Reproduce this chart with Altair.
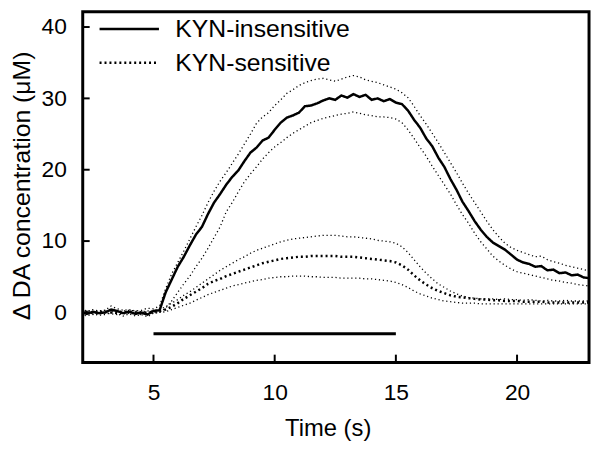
import altair as alt
import pandas as pd

# ---- data ----
T = [2.0, 2.25, 2.5, 2.75, 3.0, 3.25, 3.5, 3.75, 4.0, 4.25, 4.5, 4.75,
     5.0, 5.25, 5.5, 5.75, 6.0, 6.25, 6.5, 6.75, 7.0, 7.25, 7.5, 7.75,
     8.0, 8.25, 8.5, 8.75, 9.0, 9.25, 9.5, 9.75, 10.0, 10.25, 10.5, 10.75,
     11.0, 11.25, 11.5, 11.75, 12.0, 12.25, 12.5, 12.75, 13.0, 13.25, 13.5, 13.75,
     14.0, 14.25, 14.5, 14.75, 15.0, 15.25, 15.5, 15.75, 16.0, 16.25, 16.5, 16.75,
     17.0, 17.25, 17.5, 17.75, 18.0, 18.25, 18.5, 18.75, 19.0, 19.25, 19.5, 19.75,
     20.0, 20.25, 20.5, 20.75, 21.0, 21.25, 21.5, 21.75, 22.0, 22.25, 22.5, 22.75,
     23.0]

ins_mean = [0.0, -0.2, 0.1, -0.1, 0.0, 0.4, 0.2, -0.1, 0.1, -0.2, 0.0, -0.3,
            0.2, 0.3, 2.8, 4.6, 6.4, 7.8, 9.4, 10.9, 12.0, 13.8, 15.4, 16.6,
            17.9, 19.0, 19.9, 21.2, 22.4, 23.1, 24.1, 24.5, 25.6, 26.6, 27.3, 27.6,
            28.0, 28.9, 29.0, 29.3, 29.7, 30.0, 29.8, 30.4, 30.1, 30.6, 30.2, 30.5,
            29.8, 30.0, 29.6, 29.9, 29.4, 29.2, 28.3, 27.0, 25.9, 24.4, 23.3, 21.7,
            20.4, 18.7, 17.2, 15.5, 14.2, 12.8, 11.6, 10.6, 9.8, 9.3, 8.8, 8.1,
            7.4, 7.0, 6.8, 6.4, 6.5, 5.9, 6.0, 5.5, 5.6, 5.2, 5.3, 4.9,
            4.8]
ins_hi = [0.3, 0.1, 0.4, 0.2, 0.3, 0.9, 0.5, 0.3, 0.4, 0.2, 0.3, 0.6,
          0.5, 0.9, 3.3, 5.4, 7.0, 8.6, 10.3, 12.0, 13.6, 15.4, 17.0, 18.4,
          19.6, 20.9, 22.2, 23.6, 25.0, 26.5, 27.4, 28.0, 29.0, 29.8, 30.7, 31.2,
          31.8, 32.2, 32.5, 32.7, 32.8, 32.6, 32.4, 32.7, 33.0, 33.2, 33.0, 32.6,
          32.4, 32.2, 31.9, 31.6, 31.3, 30.8, 30.1, 28.9, 27.6, 26.4, 25.1, 23.8,
          22.4, 21.0, 19.6, 18.1, 16.7, 15.4, 14.1, 12.8, 11.6, 10.6, 9.7, 9.1,
          8.7, 8.4, 8.1, 7.8, 7.9, 7.4, 7.1, 6.9, 6.6, 6.4, 6.2, 6.0,
          5.8]
ins_lo = [-0.3, -0.5, -0.2, -0.4, -0.3, 0.0, -0.2, -0.5, -0.2, -0.5, -0.3, -0.6,
          -0.1, 0.0, 0.6, 1.6, 2.8, 4.0, 5.1, 6.4, 7.6, 9.0, 10.5, 12.0,
          14.1, 15.4, 16.9, 18.3, 19.4, 20.4, 21.5, 22.4, 23.2, 23.8, 24.5, 25.1,
          25.6, 26.1, 26.6, 26.9, 27.2, 27.4, 27.6, 27.8, 27.9, 28.1, 27.9, 27.7,
          27.6, 27.4, 27.4, 27.3, 27.1, 26.6, 25.6, 24.4, 23.1, 21.9, 20.5, 19.2,
          17.9, 16.6, 15.1, 13.7, 12.5, 11.1, 9.9, 8.9, 7.9, 7.2, 6.6, 6.1,
          5.7, 5.5, 5.3, 5.1, 4.9, 4.7, 4.5, 4.4, 4.2, 4.1, 3.9, 3.8,
          3.7]
sen_mean = [0.0, 0.1, -0.1, 0.0, 0.1, 0.0, -0.1, 0.0, 0.1, 0.0, -0.1, 0.0,
            0.1, 0.2, 0.4, 0.8, 1.3, 1.9, 2.4, 2.9, 3.4, 4.0, 4.4, 4.7,
            5.1, 5.4, 5.7, 6.0, 6.3, 6.6, 6.9, 7.1, 7.3, 7.5, 7.6, 7.7,
            7.8, 7.8, 7.9, 7.9, 7.9, 7.9, 7.9, 7.8, 7.8, 7.8, 7.7, 7.6,
            7.5, 7.4, 7.3, 7.2, 7.0, 6.6, 6.0, 5.2, 4.5, 3.9, 3.4, 3.0,
            2.7, 2.4, 2.2, 2.1, 2.0, 1.9, 1.8, 1.8, 1.7, 1.7, 1.6, 1.6,
            1.6, 1.5, 1.5, 1.5, 1.5, 1.4, 1.4, 1.4, 1.4, 1.4, 1.4, 1.4,
            1.4]
sen_hi = [0.2, 0.3, 0.1, 0.2, 0.3, 0.2, 0.1, 0.2, 0.3, 0.2, 0.1, 0.2,
          0.3, 0.4, 0.8, 1.3, 1.8, 2.4, 2.9, 3.5, 4.1, 4.7, 5.3, 5.9,
          6.4, 6.9, 7.4, 7.8, 8.3, 8.7, 9.0, 9.3, 9.6, 9.9, 10.1, 10.3,
          10.4, 10.5, 10.6, 10.7, 10.8, 10.8, 10.8, 10.7, 10.6, 10.6, 10.5, 10.4,
          10.3, 10.1, 10.0, 9.9, 9.7, 9.2, 8.4, 7.4, 6.4, 5.5, 4.7, 4.0,
          3.5, 3.0, 2.6, 2.3, 2.1, 2.0, 1.9, 1.9, 1.9, 1.8, 1.9, 1.8,
          1.8, 1.7, 1.8, 1.7, 1.6, 1.7, 1.6, 1.6, 1.7, 1.6, 1.6, 1.6,
          1.6]
sen_lo = [-0.2, -0.1, -0.3, -0.2, -0.1, -0.2, -0.3, -0.2, -0.1, -0.2, -0.3, -0.2,
          -0.1, 0.0, 0.1, 0.4, 0.7, 1.0, 1.3, 1.7, 2.1, 2.5, 2.8, 3.1,
          3.4, 3.7, 3.9, 4.1, 4.3, 4.5, 4.6, 4.8, 4.9, 5.0, 5.0, 5.1,
          5.1, 5.1, 5.0, 5.0, 4.9, 4.9, 4.9, 4.8, 4.8, 4.8, 4.8, 4.7,
          4.7, 4.6, 4.5, 4.4, 4.2, 3.9, 3.5, 3.0, 2.6, 2.3, 2.0, 1.8,
          1.6, 1.5, 1.4, 1.3, 1.3, 1.3, 1.2, 1.2, 1.2, 1.2, 1.2, 1.2,
          1.2, 1.2, 1.2, 1.2, 1.2, 1.2, 1.2, 1.2, 1.2, 1.2, 1.2, 1.2,
          1.2]

series_names = ["KYN-insensitive", "KYN-sensitive"]
ytick_vals = [0, 10, 20, 30, 40]
xtick_vals = [5, 10, 15, 20]
stim_start, stim_end, stim_level = 5, 15, -3

# ---- tables ----
mean_rows = []
for name, vals in [(series_names[0], ins_mean), (series_names[1], sen_mean)]:
    for t, v in zip(T, vals):
        mean_rows.append({"t": t, "v": v, "series": name})
means = pd.DataFrame(mean_rows)

bound_rows = []
for lid, vals in [("ins_hi", ins_hi), ("ins_lo", ins_lo), ("sen_hi", sen_hi), ("sen_lo", sen_lo)]:
    for t, v in zip(T, vals):
        bound_rows.append({"t": t, "v": v, "line": lid})
bounds = pd.DataFrame(bound_rows)

stim = pd.DataFrame({"t": [stim_start], "t2": [stim_end], "v": [stim_level]})
yticks = pd.DataFrame({"v": ytick_vals})
xticks = pd.DataFrame({"t": xtick_vals})

# ---- chart ----
FONT = "Liberation Sans"
W, H = 511.5, 354.5

xs = alt.Scale(domain=[2.08, 22.97], nice=False, zero=False)
ys = alt.Scale(domain=[-7.03, 42.15], nice=False, zero=False)

xaxis = alt.Axis(values=xtick_vals, ticks=False, tickSize=0, domain=False, grid=False,
                 labelFont=FONT, labelFontSize=23, labelColor="black", labelPadding=19,
                 title="Time (s)", titleFont=FONT, titleFontSize=24, titleFontWeight="normal",
                 titleColor="black", titleX=247.5, titleY=74, titleAlign="center",
                 titleBaseline="alphabetic")
yaxis = alt.Axis(values=ytick_vals, ticks=False, tickSize=0, domain=False, grid=False,
                 labelFont=FONT, labelFontSize=23, labelColor="black", labelPadding=16.5,
                 title="Δ DA concentration (μM)", titleFont=FONT, titleFontSize=25,
                 titleFontWeight="normal", titleColor="black", titleAngle=270,
                 titleX=-54, titleY=175.5, titleAlign="center", titleBaseline="alphabetic")

x = alt.X("t:Q", scale=xs, axis=xaxis)
y = alt.Y("v:Q", scale=ys, axis=yaxis)

bound_layer = alt.Chart(bounds).mark_line(
    color="black", strokeWidth=1.3, strokeDash=[1.2, 2.8], clip=True
).encode(x=x, y=y, detail="line:N")

mean_layer = alt.Chart(means).mark_line(
    color="black", strokeWidth=2.5, clip=True
).encode(
    x=x, y=y,
    strokeDash=alt.StrokeDash(
        "series:N",
        scale=alt.Scale(domain=series_names, range=[[1, 0], [2, 3]]),
        legend=alt.Legend(orient="none", legendX=34.5, legendY=5, title=None,
                          symbolType="M-3,0H3", symbolSize=400, symbolStrokeWidth=2.5,
                          symbolStrokeColor="black", labelFont=FONT, labelFontSize=25,
                          labelColor="black", labelOffset=34, labelLimit=400,
                          rowPadding=8, padding=0),
    ),
)

stim_layer = alt.Chart(stim).mark_rule(color="black", strokeWidth=3).encode(
    x=x, x2="t2:Q", y=y
)

ytick_layer = alt.Chart(yticks).mark_rule(color="black", strokeWidth=2).encode(
    y=y, x=alt.value(0), x2=alt.value(7)
)
xtick_layer = alt.Chart(xticks).mark_rule(color="black", strokeWidth=2).encode(
    x=x, y=alt.value(H), y2=alt.value(H - 8)
)

chart = alt.layer(bound_layer, mean_layer, stim_layer, ytick_layer, xtick_layer).properties(
    width=W, height=H,
    autosize=alt.AutoSizeParams(type="none"),
    padding={"left": 75.5, "top": 1.5, "right": 3, "bottom": 77},
).configure(font=FONT).configure_view(stroke="black", strokeWidth=3)

chart.save("out.html", embed_options={"renderer": "svg", "actions": False})
